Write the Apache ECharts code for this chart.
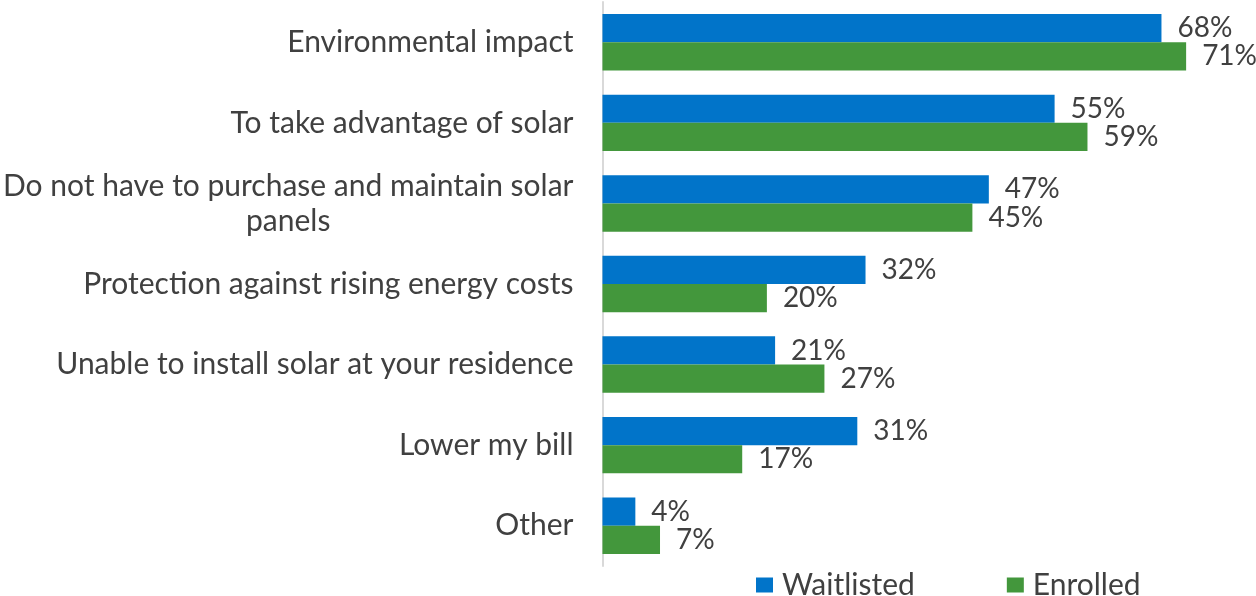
<!DOCTYPE html>
<html>
<head>
<meta charset="utf-8">
<script src="https://cdn.jsdelivr.net/npm/echarts@6/dist/echarts.min.js"></script>
<style>
html,body{margin:0;padding:0;background:#fff;}
#chart{width:1256px;height:596px;}
</style>
</head>
<body>
<div id="chart"></div>
<script>
const categories = [
  "Environmental impact",
  "To take advantage of solar",
  "Do not have to purchase and maintain solar\npanels",
  "Protection against rising energy costs",
  "Unable to install solar at your residence",
  "Lower my bill",
  "Other"
];
const waitlisted = [68, 55, 47, 32, 21, 31, 4];
const enrolled = [71, 59, 45, 20, 27, 17, 7];
const seriesNames = ["Waitlisted", "Enrolled"];

const FONT = "Lato";
const TXT = "#404040";

const chart = echarts.init(document.getElementById('chart'));
const labelCfg = {
  show: true, position: 'right', distance: 16,
  formatter: p => p.value + '%',
  color: TXT, fontSize: 28, fontFamily: FONT
};
chart.setOption({
  animation: false,
  grid: { left: 601, right: 0, top: 2, bottom: 30, containLabel: false },
  legend: {
    data: seriesNames,
    left: 751, top: 565, padding: 5,
    itemWidth: 17, itemHeight: 15, itemGap: 92,
    icon: 'rect',
    textStyle: { color: TXT, fontSize: 30, fontFamily: FONT, padding: [0,0,0,4] }
  },
  xAxis: {
    type: 'value', min: 0, max: 79.5, show: false,
    splitLine: { show: false }
  },
  yAxis: {
    type: 'category', data: categories, inverse: true,
    axisLine: { show: true, lineStyle: { color: '#d9d9d9', width: 2 } },
    axisTick: { show: false },
    axisLabel: {
      margin: 29,
      formatter: v => v.split('\n').map(s => '{c|' + s + '}').join('\n'),
      rich: { c: { align: 'center', color: TXT, fontSize: 30, fontFamily: FONT, lineHeight: 35 } }
    }
  },
  series: [
    { name: seriesNames[0], type: 'bar', data: waitlisted, barGap: '0%', barCategoryGap: '30%',
      itemStyle: { color: '#0174C9' }, label: labelCfg },
    { name: seriesNames[1], type: 'bar', data: enrolled,
      itemStyle: { color: '#43973C' }, label: labelCfg }
  ]
});
</script>
</body>
</html>
